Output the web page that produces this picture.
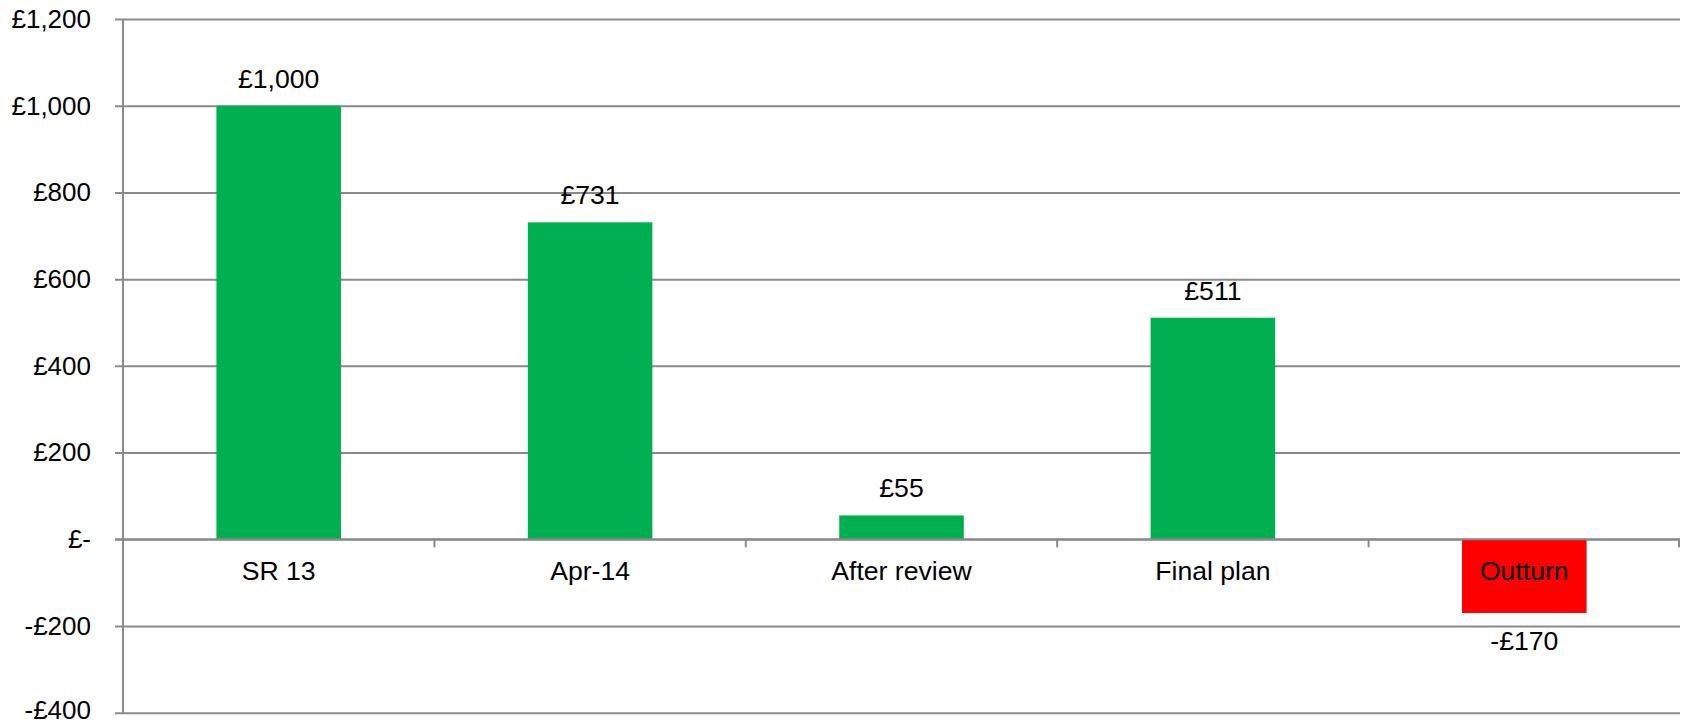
<!DOCTYPE html>
<html>
<head>
<meta charset="utf-8">
<script src="https://cdn.jsdelivr.net/npm/d3@7"></script>
<style>
  html, body { margin: 0; padding: 0; background: #fff; }
  text { font-family: "Liberation Sans", Arial, sans-serif; fill: #000; }
</style>
</head>
<body>
<script>
const categories = ["SR 13", "Apr-14", "After review", "Final plan", "Outturn"];
const values = [1000, 731, 55, 511, -170];
const yTicks = [-400, -200, 0, 200, 400, 600, 800, 1000, 1200];

const width = 1685;
const height = 725;
const margin = { top: 19, right: 5, bottom: 12.3, left: 123 };
const fontSize = 26.6;
const tickFontSize = 26;

const svg = d3
  .select("body")
  .append("svg")
  .attr("width", width)
  .attr("height", height)
  .attr("viewBox", `0 0 ${width} ${height}`);

const x = d3
  .scaleBand()
  .domain(categories)
  .range([margin.left, width - margin.right])
  .paddingInner(0.6)
  .paddingOuter(0.3);

const y = d3
  .scaleLinear()
  .domain([-400, 1200])
  .range([height - margin.bottom, margin.top]);

const money = (v) => {
  if (v === 0) return "£-";
  const s = "£" + d3.format(",")(Math.abs(v));
  return v < 0 ? "-" + s : s;
};

const gridColor = "#8a8a8a";

// Gridlines + y labels

const yAxis = d3
  .axisLeft(y)
  .tickValues(yTicks)
  .tickFormat(money)
  .tickSize(-(width - margin.right - margin.left) - 8)
  .tickPadding(24);

const yg = svg
  .append("g")
  .attr("transform", `translate(${margin.left - 8},0)`)
  .call(yAxis);
yg.select(".domain").remove();
yg.selectAll(".tick line")
  .attr("x1", 0)
  .attr("x2", width - margin.right - margin.left + 8)
  .attr("stroke", gridColor)
  .attr("stroke-width", 2);
yg.selectAll(".tick text")
  .attr("x", -24)
  .attr("font-size", tickFontSize)
  .attr("font-family", "Liberation Sans, Arial, sans-serif")
  .attr("fill", "#000")
  // keep the lowest label inside the picture
  .attr("dy", (d) => (d === yTicks[0] ? "0.22em" : "0.32em"));

// Bars

svg
  .append("g")
  .selectAll("rect")
  .data(values)
  .join("rect")
  .attr("x", (d, i) => x(categories[i]))
  .attr("width", x.bandwidth())
  .attr("y", (d) => y(Math.max(0, d)))
  .attr("height", (d) => Math.abs(y(d) - y(0)))
  .attr("fill", (d) => (d < 0 ? "#ff0000" : "#00b050"));

// Vertical axis line

svg
  .append("line")
  .attr("x1", margin.left)
  .attr("x2", margin.left)
  .attr("y1", margin.top)
  .attr("y2", height - margin.bottom)
  .attr("stroke", gridColor)
  .attr("stroke-width", 2);

// Zero axis with category boundary ticks

const step = x.step();
const boundaries = d3.range(categories.length + 1).map((i) => margin.left + i * step);

svg
  .append("line")
  .attr("x1", margin.left - 8)
  .attr("x2", width - margin.right)
  .attr("y1", y(0))
  .attr("y2", y(0))
  .attr("stroke", gridColor)
  .attr("stroke-width", 2);

svg
  .append("g")
  .selectAll("line")
  .data(boundaries)
  .join("line")
  .attr("x1", (d) => Math.min(d, width - margin.right - 1))
  .attr("x2", (d) => Math.min(d, width - margin.right - 1))
  .attr("y1", y(0))
  .attr("y2", y(0) + 8)
  .attr("stroke", gridColor)
  .attr("stroke-width", 2);

// Category labels

svg
  .append("g")
  .selectAll("text")
  .data(categories)
  .join("text")
  .attr("x", (d) => x(d) + x.bandwidth() / 2)
  .attr("y", y(0) + 41)
  .attr("text-anchor", "middle")
  .attr("font-size", fontSize)
  .text((d) => d);

// Value labels

svg
  .append("g")
  .selectAll("text")
  .data(values)
  .join("text")
  .attr("x", (d, i) => x(categories[i]) + x.bandwidth() / 2)
  .attr("y", (d) => (d < 0 ? y(d) + 37 : y(d) - 18))
  .attr("text-anchor", "middle")
  .attr("font-size", fontSize)
  .text(money);
</script>
</body>
</html>
